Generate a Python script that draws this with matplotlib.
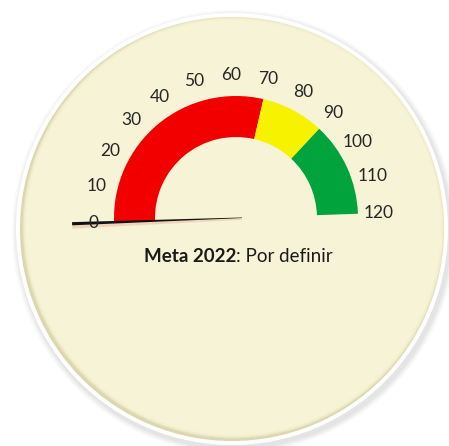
import numpy as np
import matplotlib
matplotlib.use("Agg")
import matplotlib.pyplot as plt
from matplotlib.patches import Circle, Wedge, Polygon

# gauge data
band_start = [0, 70, 90]
band_end = [70, 90, 120]
band_colors = ['#F20000', '#F7F300', '#00A33C']
tick_values = [0, 10, 20, 30, 40, 50, 60, 70, 80, 90, 100, 110, 120]
tick_labels = ['0', '10', '20', '30', '40', '50', '60', '70', '80', '90', '100', '110', '120']
needle_value = 0
vmax = 120
meta_bold = 'Meta 2022'
meta_text = ': Por definir'

W, H = 449, 446
fig = plt.figure(figsize=(W / 100, H / 100), dpi=100)
ax = fig.add_axes([0, 0, 1, 1])
ax.set_xlim(0, W)
ax.set_ylim(0, H)
ax.axis('off')

# background disc with shadow and white rim
cx, cy, R = 232, 217, 216
for i, a in enumerate([0.04, 0.05, 0.06, 0.07]):
    ax.add_patch(Circle((cx + 2, cy - 3), R + 6 - i * 1.5, color='#808080', alpha=a, lw=0))
ax.add_patch(Circle((cx, cy), R, color='white', lw=0))
ax.add_patch(Circle((cx, cy), R - 4, color='#DCD7AE', lw=0))
for i, a in enumerate([0.4, 0.55, 0.7, 0.85, 1.0]):
    ax.add_patch(Circle((cx + 1.5, cy + 1.5), R - 5 - i * 1.0, color='#F6F3D6', alpha=a, lw=0))

# gauge
gx, gy = 236, 228
r_out, r_in = 122, 81
rot = 2.0


def angle(v):
    return 180 + rot - 180.0 * v / vmax


for s, e, c in zip(band_start, band_end, band_colors):
    ax.add_patch(Wedge((gx, gy), r_out, angle(e), angle(s), width=r_out - r_in,
                       facecolor=c, edgecolor='none'))

r_lab = 143
for v, lab in zip(tick_values, tick_labels):
    t = np.radians(angle(v))
    ax.text(gx + r_lab * np.cos(t), gy + r_lab * np.sin(t), lab, ha='center', va='center',
            fontsize=12.5, color='#262626', family='Lato')

# needle
t = np.radians(angle(needle_value))
d = np.array([np.cos(t), np.sin(t)])
n = np.array([-d[1], d[0]])
base = np.array([gx, gy]) - d * 6
tip = np.array([gx, gy]) + d * 164
shadow = Polygon([base - n * 1 - [0, 3], tip + n * 2 - [0, 3], tip - n * 3 - [0, 4], base - n * 2 - [0, 3]],
                 closed=True, facecolor='#E8B8A0', edgecolor='none', alpha=0.5)
ax.add_patch(shadow)
ax.add_patch(Polygon([base + n * 0.3, tip + n * 1.6, tip - n * 1.6, base - n * 0.3],
                     closed=True, facecolor='#111111', edgecolor='none'))

# caption
fig.canvas.draw()
r = fig.canvas.get_renderer()
tb = ax.text(0, 0, meta_bold, fontsize=13.5, fontweight='bold', family='Lato', color='#1a1a1a')
tn = ax.text(0, 0, meta_text, fontsize=13.5, family='Lato', color='#1a1a1a')
wb = tb.get_window_extent(r).width
wn = tn.get_window_extent(r).width
x0 = 238 - (wb + wn) / 2
tb.set_position((x0, H - 256))
tb.set_va('center')
tn.set_position((x0 + wb, H - 256))
tn.set_va('center')

fig.savefig('out.png', dpi=100, facecolor='white')
